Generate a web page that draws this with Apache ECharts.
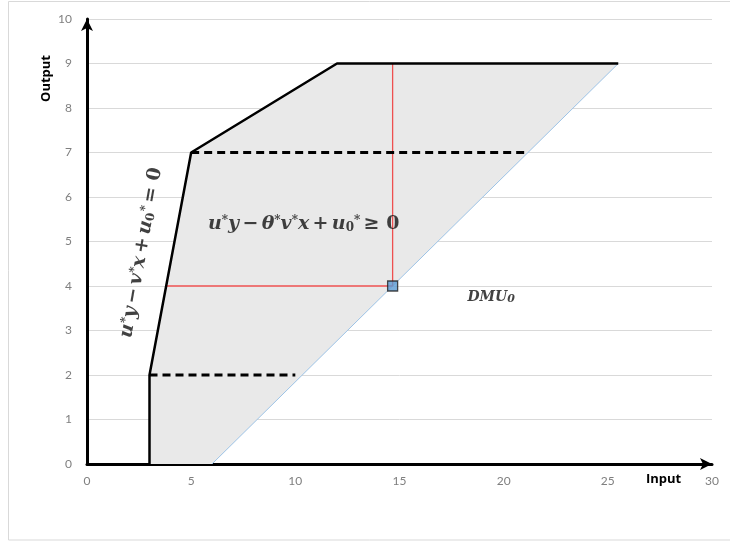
<!DOCTYPE html>
<html>
<head>
<meta charset="utf-8">
<script src="https://cdn.jsdelivr.net/npm/echarts@6/dist/echarts.min.js"></script>
<style>
  html, body { margin: 0; padding: 0; background: #fff; }
  #chart { width: 730px; height: 546px; }
</style>
</head>
<body>
<div id="chart"></div>
<script>
// Production possibility set (input x, output y)
var feasibleRegion = [[3, 0], [3, 2], [5, 7], [12, 9], [25.5, 9], [6, 0]];
var frontier = [[3, 0], [3, 2], [5, 7], [12, 9], [25.5, 9]];
var rayLine = [[6, 0], [25.5, 9]];
var dashedUpper = [[5, 7], [21, 7]];
var dashedLower = [[3, 2], [10, 2]];
var dmu = [14.67, 4];
var projectionH = [[3.8, 4], [14.67, 4]];
var projectionV = [[14.67, 4], [14.67, 9]];
var xTicks = { min: 0, max: 30, step: 5 };
var yTicks = { min: 0, max: 10, step: 1 };

// Label anchor points (data coordinates)
var inequalityAt = [10.4, 5.39];
var hyperplaneAt = [2.6, 4.75];
var dmuLabelAt = [19.4, 3.74];

var serif = '"DejaVu Serif", "Liberation Serif", serif';
var mathRich = {
  v: { fontFamily: serif, fontStyle: 'italic', fontWeight: 'bold', fontSize: 19, color: '#111' },
  n: { fontFamily: serif, fontWeight: 'bold', fontSize: 19, color: '#111' },
  sup: { fontFamily: serif, fontWeight: 'bold', fontSize: 12, color: '#111', verticalAlign: 'top', lineHeight: 12, padding: [0, 0, 6, 0] },
  sub: { fontFamily: serif, fontWeight: 'bold', fontSize: 12, color: '#111', verticalAlign: 'bottom', lineHeight: 12, padding: [5, 0, 0, 0] }
};

var chart = echarts.init(document.getElementById('chart'));

function lineSeries(data, color, width, type) {
  return {
    type: 'line', data: data, symbol: 'none', silent: true, z: 3,
    lineStyle: { color: color, width: width, type: type || 'solid' }
  };
}

function textPoint(at, formatter, rich, rotate) {
  return {
    type: 'scatter', data: [at], symbolSize: 0, silent: true, z: 6,
    label: {
      show: true, position: 'inside', rotate: rotate || 0,
      formatter: formatter, rich: rich
    }
  };
}

chart.setOption({
  animation: false,
  backgroundColor: '#fff',
  grid: { left: 87, right: 18, top: 19, bottom: 82 },
  graphic: [
    {
      type: 'rect', silent: true, z: -1,
      shape: { x: 8.5, y: 1.5, width: 740, height: 538.5 },
      style: { fill: 'none', stroke: '#d9d9d9', lineWidth: 1 }
    },
    {
      type: 'text', left: 40, top: 55, rotation: Math.PI / 2,
      style: { text: 'Output', font: 'bold 13px "Open Sans", Lato, sans-serif', fill: '#000' }
    },
    {
      type: 'text', left: 646, top: 473,
      style: { text: 'Input', font: 'bold 13px "Open Sans", Lato, sans-serif', fill: '#000' }
    }
  ],
  xAxis: {
    type: 'value', min: xTicks.min, max: xTicks.max, interval: xTicks.step,
    axisLine: { show: true, onZero: false, symbol: ['none', 'arrow'], symbolSize: [9, 12],
      lineStyle: { color: '#000', width: 3 } },
    axisTick: { show: false },
    splitLine: { show: false },
    axisLabel: { color: '#7f7f7f', fontSize: 12, fontFamily: 'Lato, sans-serif', margin: 11 }
  },
  yAxis: {
    type: 'value', min: yTicks.min, max: yTicks.max, interval: yTicks.step,
    axisLine: { show: true, onZero: false, symbol: ['none', 'arrow'], symbolSize: [9, 12],
      lineStyle: { color: '#000', width: 3 } },
    axisTick: { show: false },
    splitLine: { show: true, lineStyle: { color: '#d9d9d9', width: 1 } },
    axisLabel: { color: '#7f7f7f', fontSize: 12, fontFamily: 'Lato, sans-serif', margin: 15 }
  },
  series: [
    {
      type: 'custom', silent: true, z: 1,
      data: [0],
      renderItem: function (params, api) {
        var pts = feasibleRegion.map(function (p) { return api.coord(p); });
        return { type: 'polygon', shape: { points: pts }, style: { fill: '#e9e9e9', stroke: 'none' } };
      }
    },
    lineSeries(rayLine, '#9dc3e6', 1),
    lineSeries(projectionH, '#ee5050', 1.3),
    lineSeries(projectionV, '#ee5050', 1.3),
    lineSeries(dashedUpper, '#000', 3, [8, 5]),
    lineSeries(dashedLower, '#000', 3, [8, 5]),
    lineSeries(frontier, '#000', 2.5),
    {
      type: 'scatter', data: [dmu], symbol: 'rect', symbolSize: 10, silent: true, z: 5,
      itemStyle: { color: '#5b9bd5', borderColor: '#1f1f1f', borderWidth: 1.3 }
    },
    textPoint(inequalityAt,
      '{v|u}{sup|*}{v|y} {n|−} {v|θ}{sup|*}{v|v}{sup|*}{v|x} {n|+} {v|u}{sub|0}{sup|*} {n|≥ 0}', mathRich),
    textPoint(hyperplaneAt,
      '{v|u}{sup|*}{v|y} {n|−} {v|v}{sup|*}{v|x} {n|+} {v|u}{sub|0}{sup|*} {n|= 0}', mathRich, 80),
    textPoint(dmuLabelAt, '{d|DMU}{s|0}', {
      d: { fontFamily: serif, fontStyle: 'italic', fontWeight: 'bold', fontSize: 14, color: '#111' },
      s: { fontFamily: serif, fontStyle: 'italic', fontWeight: 'bold', fontSize: 11, color: '#111', verticalAlign: 'bottom', lineHeight: 11, padding: [4, 0, 0, 0] }
    })
  ]
});
</script>
</body>
</html>
